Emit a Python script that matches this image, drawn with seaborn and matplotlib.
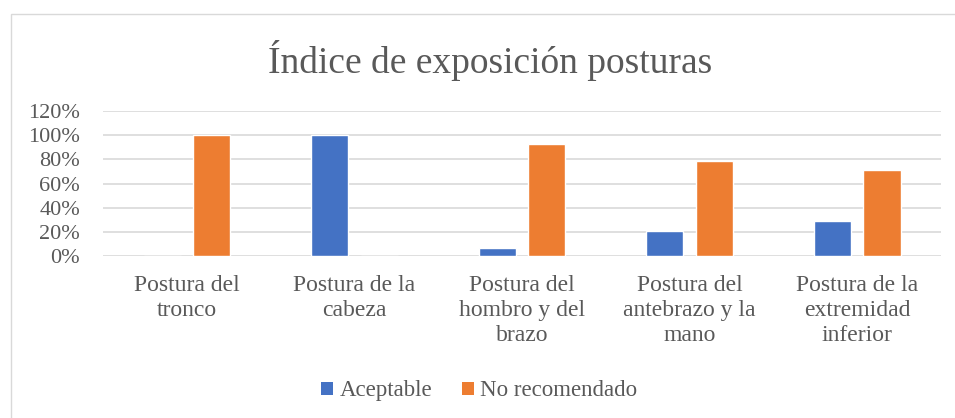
import numpy as np
import pandas as pd
import matplotlib
matplotlib.use("Agg")
import matplotlib.pyplot as plt
import seaborn as sns
from matplotlib.patches import Rectangle, Patch
from matplotlib.ticker import PercentFormatter

# Data
categorias = [
    "Postura del\ntronco",
    "Postura de la\ncabeza",
    "Postura del\nhombro y del\nbrazo",
    "Postura del\nantebrazo y la\nmano",
    "Postura de la\nextremidad\ninferior",
]
aceptable = [0.00, 1.00, 0.07, 0.21, 0.29]
no_recomendado = [1.00, 0.00, 0.93, 0.79, 0.71]
series = ["Aceptable", "No recomendado"]
colores = ["#4472C4", "#ED7D31"]

df = pd.DataFrame({
    "categoria": categorias * 2,
    "valor": aceptable + no_recomendado,
    "serie": [series[0]] * len(categorias) + [series[1]] * len(categorias),
})

sns.set_theme(style="white")
plt.rcParams["font.family"] = ["Liberation Serif", "DejaVu Serif"]
texto = "#595959"

fig = plt.figure(figsize=(9.55, 4.18), dpi=100)
ax = fig.add_axes([0.1079, 0.3876, 0.8775, 0.3468])

sns.barplot(data=df, x="categoria", y="valor", hue="serie",
            palette=colores, width=0.59, gap=0.25, ax=ax,
            legend=False, saturation=1)

ax.set_ylim(0, 1.2)
ax.set_yticks(np.arange(0, 1.21, 0.2))
ax.yaxis.set_major_formatter(PercentFormatter(1.0, decimals=0))
ax.yaxis.grid(True, color="#d9d9d9", linewidth=1.2)
ax.set_axisbelow(True)
for s in ax.spines.values():
    s.set_visible(False)
ax.set_xlabel("")
ax.set_ylabel("")
ax.tick_params(axis="y", labelsize=16, colors=texto, pad=16.5, length=0)
ax.tick_params(axis="x", labelsize=17, colors=texto, pad=14, length=0)
for lbl in ax.get_xticklabels():
    lbl.set_linespacing(1.25)
ax.set_xlim(-0.5, len(categorias) - 0.5)

fig.text(0.513, 0.855, "Índice de exposición posturas", ha="center",
         va="center", fontsize=27, color=texto)

handles = [Patch(facecolor=c, edgecolor="none") for c in colores]
fig.legend(handles, series, loc="center", bbox_to_anchor=(0.502, 0.065),
           ncol=2, frameon=False, fontsize=16.5, handlelength=0.5,
           handleheight=0.5, handletextpad=0.3, columnspacing=1.3,
           labelcolor=texto)

fig.patches.append(Rectangle((0.012, -0.1), 1.1, 1.066, transform=fig.transFigure,
                             fill=False, edgecolor="#d9d9d9", linewidth=1))

fig.savefig("out.png", dpi=100)
